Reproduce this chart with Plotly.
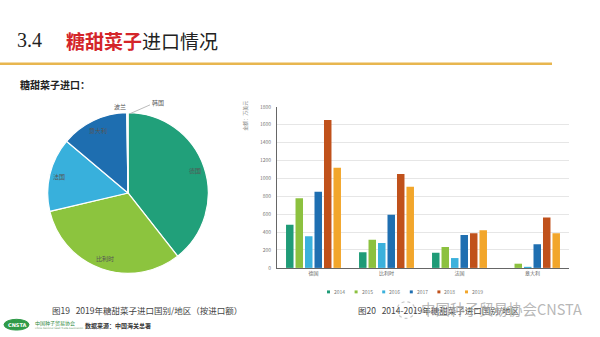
import math
import plotly.graph_objects as go

W, H = 600, 337
CJK = "Noto Sans CJK SC"

# Import value by country and year (unit: 10k USD)
countries = ["德国", "比利时", "法国", "意大利"]
years = ["2014", "2015", "2016", "2017", "2018", "2019"]
values = {
    "2014": [483, 176, 168, 0],
    "2015": [779, 314, 234, 47],
    "2016": [354, 278, 110, 12],
    "2017": [852, 593, 369, 263],
    "2018": [1653, 1049, 387, 563],
    "2019": [1119, 907, 420, 387],
}
year_colors = ["#1f9b77", "#8cc13f", "#3bb1dc", "#1f6fb1", "#c0511b", "#f2a62b"]
y_ticks = [0, 200, 400, 600, 800, 1000, 1200, 1400, 1600, 1800]

# 2019 import share by origin
pie_labels = ["德国", "比利时", "法国", "意大利", "波兰", "韩国"]
pie_values = [1119, 907, 420, 387, 5, 2]
pie_colors = ["#21a07a", "#8cc43e", "#38b0dc", "#1e6eb0", "#6fc0e0", "#9fd7a8"]

fig = go.Figure()


def px_x(x):
    return x / W


def px_y(y):
    return 1 - y / H


def text_at(x, y, text, size, color, family=CJK, xanchor="center", **kw):
    fig.add_annotation(x=px_x(x), y=px_y(y), xref="paper", yref="paper",
                       xanchor=xanchor, yanchor="middle", showarrow=False,
                       text=text, font=dict(family=family, size=size, color=color),
                       **kw)


# ---- pie (left) ----
cx, cy, rad = 128, 193, 82
fig.add_trace(go.Pie(
    labels=pie_labels, values=pie_values, sort=False, direction="clockwise",
    rotation=0, marker=dict(colors=pie_colors, line=dict(color="white", width=1.2)),
    textinfo="none", hoverinfo="label+value", showlegend=False,
    domain=dict(x=[px_x(cx - rad), px_x(cx + rad)],
                y=[px_y(cy + rad), px_y(cy - rad)]),
))

# slice labels placed at each slice's mid angle
total = sum(pie_values)
acc = 0
for lab, v in zip(pie_labels, pie_values):
    mid = (acc + v / 2) / total * 2 * math.pi
    acc += v
    if lab == "波兰":
        lx, ly = cx - 8, cy - rad - 6
    elif lab == "韩国":
        lx, ly = cx + 30, cy - rad - 10
    else:
        r = rad * 0.86
        lx, ly = cx + r * math.sin(mid), cy - r * math.cos(mid)
    text_at(lx, ly, lab, 6, "#555")
# leader line for the tiny slice
fig.add_shape(type="line", xref="paper", yref="paper",
              x0=px_x(cx + 2), y0=px_y(cy - rad + 1),
              x1=px_x(cx + 22), y1=px_y(cy - rad - 8),
              line=dict(color="#aaa", width=0.8))

# ---- grouped bars (right) ----
for yr, col in zip(years, year_colors):
    fig.add_trace(go.Bar(
        x=countries, y=values[yr], name=yr, marker_color=col,
        marker_line_width=0, xaxis="x", yaxis="y", showlegend=False,
    ))

fig.update_layout(
    width=W, height=H, margin=dict(l=0, r=0, t=0, b=0),
    paper_bgcolor="white", plot_bgcolor="white",
    barmode="group", bargap=0.22, bargroupgap=0.21,
    font=dict(family=CJK),
    xaxis=dict(domain=[px_x(277), px_x(569)], showgrid=False, showline=True,
               linecolor="#666", linewidth=1, ticks="",
               tickfont=dict(size=5, color="#666", family=CJK)),
    yaxis=dict(domain=[px_y(269.5), px_y(105)], range=[0, 1800],
               tickvals=y_ticks, showgrid=True, gridcolor="#e6e6e6",
               gridwidth=0.8, showline=True, linecolor="#666", linewidth=1,
               zeroline=False, ticks="", ticklabelstandoff=4,
               tickfont=dict(size=5, color="#777", family=CJK)),
)

# compact legend row under the bars
for i, (yr, col) in enumerate(zip(years, year_colors)):
    lx = 329 + i * 27.6
    fig.add_shape(type="rect", xref="paper", yref="paper",
                  x0=px_x(lx - 2), x1=px_x(lx + 1),
                  y0=px_y(295.5), y1=px_y(292.5),
                  fillcolor=col, line=dict(width=0))
    text_at(lx + 3, 294, yr, 5, "#777", xanchor="left")

# axis unit, written vertically
text_at(245, 114, "金额：万美元", 5, "#888", textangle=-90)

# ---- slide header ----
text_at(15, 37, "<span style='font-family:Liberation Serif'>3.4</span>",
        20, "#222", xanchor="left")
text_at(64, 37, "<span style='color:#d4252a'><b>糖甜菜子</b></span>进口情况",
        19, "#222", xanchor="left")
fig.add_shape(type="line", xref="paper", yref="paper",
              x0=0, x1=px_x(552), y0=px_y(61), y1=px_y(61),
              line=dict(color="#e8b64f", width=2.5))
text_at(18, 82, "<b>糖甜菜子进口：</b>", 10, "#222", xanchor="left")

# ---- captions ----
text_at(50, 313, "图19   2019年糖甜菜子进口国别/地区（按进口额）", 8.5, "#444",
        xanchor="left")
text_at(356, 313, "图20   2014-2019年糖甜菜子进口国别/地区", 8.5, "#444",
        xanchor="left")
# watermark
fig.add_shape(type="circle", xref="paper", yref="paper",
              x0=px_x(397), x1=px_x(415), y0=px_y(321), y1=px_y(304),
              line=dict(color="#c8c8c8", width=1.2, dash="dot"))
text_at(419, 311, "中国种子贸易协会CNSTA", 14.5, "rgba(165,165,165,0.8)",
        xanchor="left")

# ---- footer logo and source ----
fig.add_shape(type="circle", xref="paper", yref="paper",
              x0=px_x(4), x1=px_x(29), y0=px_y(333), y1=px_y(322),
              fillcolor="#2f9a48", line=dict(color="#2f9a48", width=1))
text_at(16.5, 327.5, "<b>CNSTA</b>", 5, "white", family="DejaVu Sans")
text_at(33, 326, "中国种子贸易协会", 5, "#2f8a40", xanchor="left")
text_at(33, 331.5, "China National Seed Trade Association", 2.5, "#6a9a6a",
        family="DejaVu Sans", xanchor="left")
text_at(83, 328, "<b>数据来源：中国海关总署</b>", 6, "#333", xanchor="left")

fig.write_html("out.html")
